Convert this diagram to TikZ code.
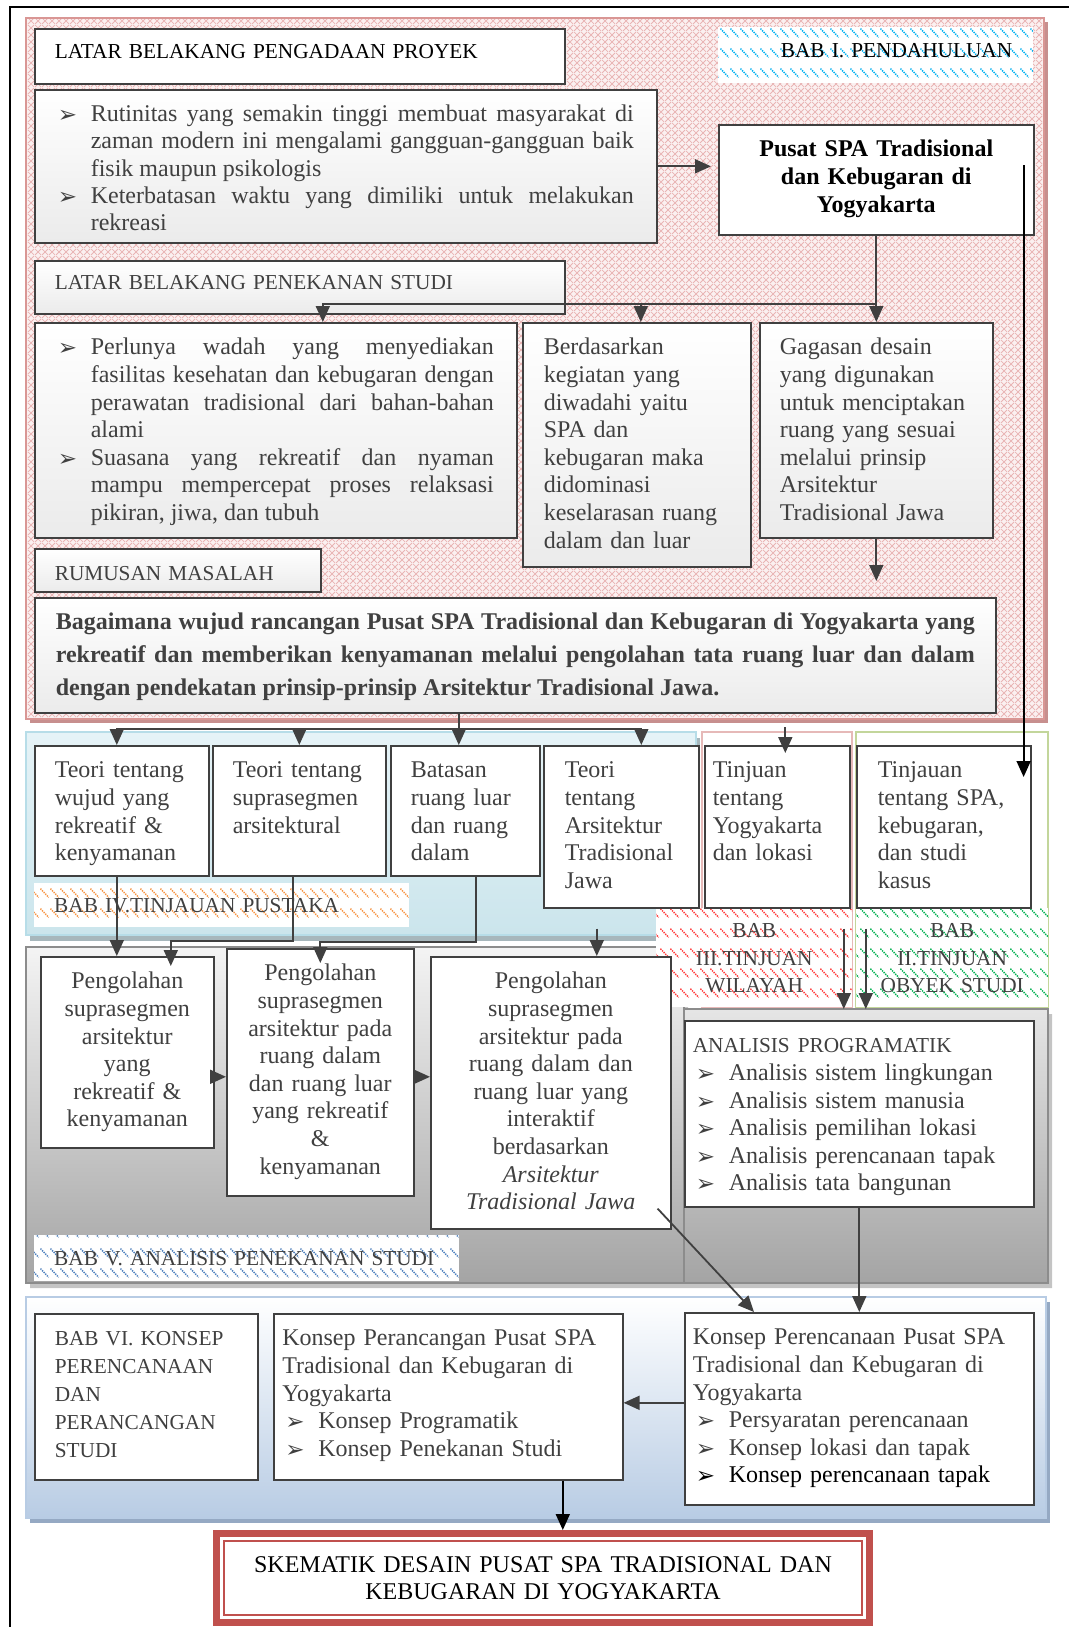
\documentclass[tikz,border=0pt]{standalone}
\usepackage{fontspec}
\setmainfont{Liberation Serif}
\newfontfamily\dejavu{DejaVu Sans}
\usetikzlibrary{arrows.meta,positioning,calc,patterns.meta}
\hyphenpenalty=10000
\exhyphenpenalty=10000
\tolerance=9999
\emergencystretch=20pt

\definecolor{txtC}{HTML}{404040}
\definecolor{lineC}{HTML}{404040}
\definecolor{boxC}{HTML}{EBEBEB}
\definecolor{pinkF}{HTML}{FBF0F0}
\definecolor{pinkL}{HTML}{E9B4B4}
\definecolor{pinkB}{HTML}{D99694}
\definecolor{pinkS}{HTML}{C78F8E}
\definecolor{blueIVa}{HTML}{E6F3F7}
\definecolor{blueIVb}{HTML}{CBE5EC}
\definecolor{blueIVB}{HTML}{B7DDE8}
\definecolor{blueIVS}{HTML}{A7B7BC}
\definecolor{redB}{HTML}{E6B9B8}
\definecolor{greenB}{HTML}{C3D69B}
\definecolor{grayA}{HTML}{F4F4F4}
\definecolor{grayB}{HTML}{A4A4A4}
\definecolor{grayBd}{HTML}{8C8C8C}
\definecolor{grayS}{HTML}{C4C4C4}
\definecolor{blueVIb}{HTML}{B8CCE4}
\definecolor{blueVIB}{HTML}{B8CCE4}
\definecolor{blueVIS}{HTML}{95A9C3}
\definecolor{hatchB}{HTML}{00B0F0}
\definecolor{hatchO}{HTML}{F79646}
\definecolor{hatchR}{HTML}{FF3B3B}
\definecolor{hatchGr}{HTML}{00B050}
\definecolor{hatchS}{HTML}{4F81BD}
\definecolor{redC}{HTML}{C0504D}

\newcommand{\lbl}{\fontsize{21.3}{27.6}\selectfont}
\newcommand{\bul}{\raisebox{-1pt}{\dejavu\fontsize{23}{23}\selectfont ➢}}
\newcommand{\itm}[2][33pt]{\noindent\hangindent=#1\hangafter=1\makebox[#1][l]{\hspace{\dimexpr#1-33pt\relax}\bul}#2\par}

\tikzdeclarepattern{
  name=dashhatch,
  type=uncolored,
  bottom left={(0pt,0pt)},
  top right={(10pt,20pt)},
  tile size={(10pt,20pt)},
  code={\draw[line width=1.6pt, dash pattern=on 1.4pt off 1.1pt] (0.5pt,19pt) -- (9.5pt,10pt);}
}
\tikzdeclarepattern{
  name=lattice,
  type=uncolored,
  bottom left={(0pt,0pt)},
  top right={(7pt,7pt)},
  tile size={(7pt,7pt)},
  code={\draw[line width=0.9pt] (0pt,0pt) -- (7pt,7pt) (0pt,7pt) -- (7pt,0pt);}
}

\tikzset{
  boxbase/.style={draw=lineC, line width=1.6pt, anchor=north west, inner ysep=14pt, text height=18pt, align=left},
  boxW/.style={boxbase, fill=white},
  boxG/.style={boxbase, top color=white, bottom color=boxC},
  lblbox/.style={font=\lbl, inner ysep=0pt, inner xsep=20pt, text height=15pt, text depth=10pt},
  hatchlbl/.style={fill=white, postaction={pattern=dashhatch, pattern color=#1}, anchor=north west,
    inner ysep=0pt, font=\lbl, text height=15pt, text depth=10pt, align=left},
  arr/.style={-{Triangle[length=16pt,width=14pt]}, draw=lineC, line width=1.8pt},
  arrK/.style={arr, draw=black}
}

\begin{document}
\begin{tikzpicture}[x=1pt,y=-1pt,font=\fontsize{24}{27.6}\selectfont,text=txtC]
\useasboundingbox (0,0) rectangle (1069,1627);
\draw[black, line width=1.5pt] (10,1627) -- (10,7) -- (1069,7);

% BAB I
\fill[pinkS] (30,22) rectangle (1048,723);
\fill[pinkF] (26,18) rectangle (1044,719);
\path[pattern=lattice, pattern color=pinkL] (26,18) rectangle (1044,719);
\draw[pinkB, line width=2pt] (26,18) rectangle (1044,719);

% BAB IV, III, II
\fill[blueIVS] (30,738) rectangle (700,941);
\shade[top color=blueIVa, bottom color=blueIVb] (26,732) rectangle (696,935);
\draw[blueIVB, line width=2pt] (26,732) rectangle (696,935);
\draw[redB, line width=2pt, fill=white] (702,732) rectangle (852,1007);
\draw[greenB, line width=2.5pt, fill=white] (856,732) rectangle (1048,1007);

% BAB V
\fill[grayS] (30,952) -- (688,952) -- (688,1014) -- (1052,1014) -- (1052,1288) -- (30,1288) -- cycle;
\shade[top color=grayA, bottom color=grayB] (26,947) -- (684,947) -- (684,1009) -- (1048,1009) -- (1048,1283) -- (26,1283) -- cycle;
\draw[grayBd, line width=2pt] (26,947) -- (684,947) -- (684,1009) -- (1048,1009) -- (1048,1283) -- (26,1283) -- cycle;
\draw[grayBd, line width=1.5pt] (684,1009) -- (684,1283);

% BAB VI
\fill[blueVIS] (30,1302) rectangle (1050,1523);
\shade[top color=white, bottom color=blueVIb] (26,1297) rectangle (1046,1518);
\draw[blueVIB, line width=2pt] (26,1297) rectangle (1046,1518);

% labels
\node[hatchlbl=hatchB, inner xsep=21pt, text width=273pt, align=right, minimum height=56pt, text=black] (bab1) at (718,27) {BAB I. PENDAHULUAN};
\node[hatchlbl=hatchO, inner xsep=20pt, text width=335pt, text height=16pt, text depth=2pt, minimum height=44pt] (bab4) at (34,883) {BAB IV.TINJAUAN PUSTAKA};
\node[hatchlbl=hatchR, inner xsep=4pt, text width=188pt, align=center, minimum height=99pt, text depth=55.2pt] (bab3) at (656,908) {BAB\\ III.TINJUAN\\ WILAYAH};
\node[hatchlbl=hatchGr, inner xsep=4pt, text width=184pt, align=center, minimum height=99pt, text depth=55.2pt] (bab2) at (856,908) {BAB\\ II.TINJUAN\\ OBYEK STUDI};
\node[hatchlbl=hatchS, inner xsep=20pt, text width=385pt, text height=16pt, text depth=2pt, minimum height=46pt] (bab5) at (34,1235) {BAB V. ANALISIS PENEKANAN STUDI};

% boxes of BAB I
\node[boxW, lblbox, text width=490pt, minimum height=55pt, text=black] (latarA) at (34,28) {LATAR BELAKANG PENGADAAN PROYEK};
\node[boxG, inner xsep=23pt, text width=576pt, text depth=107pt, align=justify, font=\fontsize{24}{27.1}\selectfont] (rutin) at (34,89)
  {\itm{Rutinitas yang semakin tinggi membuat masyarakat di zaman modern ini mengalami gangguan-gangguan baik fisik maupun psikologis}%
   \itm{Keterbatasan waktu yang dimiliki untuk melakukan rekreasi}};
\node[boxW, inner xsep=20pt, text width=275pt, text depth=64pt, align=center, font=\fontsize{24}{28}\selectfont\bfseries, text=black] (pusat) at (718,124)
  {Pusat SPA Tradisional\\ dan Kebugaran di\\ Yogyakarta};
\node[boxG, lblbox, text width=490pt, minimum height=53pt] (latarB) at (34,260) {LATAR BELAKANG PENEKANAN STUDI};
\node[boxG, inner xsep=23pt, text width=436pt, text depth=169pt, align=justify] (perlu) at (34,322)
  {\itm{Perlunya wadah yang menyediakan fasilitas kesehatan dan kebugaran dengan perawatan tradisional dari bahan-bahan alami}%
   \itm{Suasana yang rekreatif dan nyaman mampu mempercepat proses relaksasi pikiran, jiwa, dan tubuh}};
\node[boxG, inner xsep=21pt, text width=186pt, text depth=198pt] (dasar) at (522,322)
  {Berdasarkan\\ kegiatan yang\\ diwadahi yaitu\\ SPA dan\\ kebugaran maka\\ didominasi\\ keselarasan ruang\\ dalam dan luar};
\node[boxG, inner xsep=20pt, text width=193pt, text depth=169pt] (gagas) at (759,322)
  {Gagasan desain\\ yang digunakan\\ untuk menciptakan\\ ruang yang sesuai\\ melalui prinsip\\ Arsitektur\\ Tradisional Jawa};
\node[boxG, lblbox, text width=246pt, text height=21pt, text depth=0pt, minimum height=43pt] (rumus) at (34,548) {RUMUSAN MASALAH};
\node[boxG, inner xsep=21pt, text width=919pt, text depth=69pt, align=justify, font=\fontsize{24}{33}\selectfont\bfseries] (tanya) at (34,597)
  {Bagaimana wujud rancangan Pusat SPA Tradisional dan Kebugaran di Yogyakarta yang rekreatif dan memberikan kenyamanan melalui pengolahan tata ruang luar dan dalam dengan pendekatan prinsip-prinsip Arsitektur Tradisional Jawa.};

% boxes of BAB IV, III, II
\node[boxW, inner xsep=20pt, text width=134pt, text depth=84pt] (teoriA) at (34,745) {Teori tentang\\ wujud yang\\ rekreatif \&\\ kenyamanan};
\node[boxW, inner xsep=20pt, text width=133pt, text depth=84pt] (teoriB) at (212,745) {Teori tentang\\ suprasegmen\\ arsitektural};
\node[boxW, inner xsep=20pt, text width=109pt, text depth=84pt] (batas) at (390,745) {Batasan\\ ruang luar\\ dan ruang\\ dalam};
\node[boxW, inner xsep=21pt, text width=113pt, text depth=116pt] (teoriC) at (543,745) {Teori\\ tentang\\ Arsitektur\\ Tradisional\\ Jawa};
\node[boxW, inner xsep=8pt, text width=129pt, text depth=116pt] (tinjA) at (704,745) {Tinjuan\\ tentang\\ Yogyakarta\\ dan lokasi};
\node[boxW, inner xsep=21pt, text width=132pt, text depth=116pt] (tinjB) at (856,745) {Tinjauan\\ tentang SPA,\\ kebugaran,\\ dan studi\\ kasus};

% boxes of BAB V
\node[boxW, inner xsep=8pt, text width=157pt, text depth=145pt, align=center] (olahA) at (40,956)
  {Pengolahan\\ suprasegmen\\ arsitektur\\ yang\\ rekreatif \&\\ kenyamanan};
\node[boxW, inner xsep=8pt, text width=171pt, text depth=201pt, align=center] (olahB) at (226,948)
  {Pengolahan\\ suprasegmen\\ arsitektur pada\\ ruang dalam\\ dan ruang luar\\ yang rekreatif\\ \&\\ kenyamanan};
\node[boxW, inner xsep=8pt, text width=224pt, text depth=226pt, align=center] (olahC) at (430,956)
  {Pengolahan\\ suprasegmen\\ arsitektur pada\\ ruang dalam dan\\ ruang luar yang\\ interaktif\\ berdasarkan\\ \textit{Arsitektur}\\ \textit{Tradisional Jawa}};
\node[boxW, inner xsep=8pt, text width=333pt, text depth=140pt] (anal) at (684,1020)
  {{\lbl ANALISIS PROGRAMATIK}\par
   \itm[36pt]{Analisis sistem lingkungan}\itm[36pt]{Analisis sistem manusia}\itm[36pt]{Analisis pemilihan lokasi}%
   \itm[36pt]{Analisis perencanaan tapak}\itm[36pt]{Analisis tata bangunan}};

% boxes of BAB VI
\node[boxW, inner xsep=20pt, text width=183pt, text depth=120pt, font=\fontsize{21.3}{28}\selectfont] (bab6) at (34,1313)
  {BAB VI. KONSEP\\ PERENCANAAN\\ DAN\\ PERANCANGAN\\ STUDI};
\node[boxW, inner xsep=8.5pt, text width=332pt, text depth=120pt] (rancang) at (273,1313)
  {Konsep Perancangan Pusat SPA\\ Tradisional dan Kebugaran di\\ Yogyakarta\par
   \itm[36pt]{Konsep Programatik}\itm[36pt]{Konsep Penekanan Studi}};
\node[boxW, inner xsep=8pt, text width=333pt, text depth=146pt] (rencana) at (684,1312)
  {Konsep Perencanaan Pusat SPA\\ Tradisional dan Kebugaran di\\ Yogyakarta\par
   \itm[36pt]{Persyaratan perencanaan}\itm[36pt]{Konsep lokasi dan tapak}%
   {\color{black}\itm[36pt]{Konsep perencanaan tapak}}};

\node[draw=redC, line width=7pt, fill=white, minimum width=653pt, minimum height=89pt, inner sep=0pt, text width=600pt, align=center, text=black, font=\fontsize{24}{27.3}\selectfont] (skema) at (543,1578)
  {SKEMATIK DESAIN PUSAT SPA TRADISIONAL DAN\\ KEBUGARAN DI YOGYAKARTA};
\draw[redC, line width=2.2pt] ([shift={(11,11)}]skema.north west) rectangle ([shift={(-11,-11)}]skema.south east);

% connectors
\draw[arr, shorten >=7pt] (rutin.east) -- (rutin.east -| pusat.west);
\coordinate (jA) at ([yshift=18pt]gagas.north);
\coordinate (dN) at ([xshift=4pt]dasar.north);
\draw[arr] (pusat.south) -- (gagas.north);
\draw[arr] (jA) -| ([xshift=47pt]perlu.north);
\draw[arr] (jA -| dN) -- (dN);
\draw[arr, shorten >=16pt] (gagas.south) -- (gagas.south |- tanya.north);

\coordinate (jB) at ([xshift=-56.5pt,yshift=-15pt]tanya.south);
\draw[lineC, line width=1.8pt] ([xshift=-56.5pt]tanya.south) -- (jB);
\draw[arr] (jB) -| ([xshift=-5pt]teoriA.north);
\draw[arr] (jB) -| ([xshift=20pt]teoriC.north);
\draw[arr] (jB -| teoriB.north) -- (teoriB.north);
\draw[arr] (jB) -- (jB |- batas.north);
\draw[arr] ([xshift=8pt,yshift=18pt]tinjA.north) -- ([xshift=8pt,yshift=-8pt]tinjA.north);

\coordinate (pR) at ([xshift=-11pt,yshift=-41pt]pusat.north east);
\coordinate (pE) at (pR |- tinjB.north);
\draw[arrK] (pR) -- ([yshift=-32pt]pE);

\coordinate (aS) at ([xshift=-5pt]teoriA.south);
\draw[arr] (aS) -- (aS |- olahA.north);
\coordinate (bS) at ([xshift=-6.5pt]teoriB.south);
\coordinate (bT) at ([xshift=43.5pt,yshift=-10pt]olahA.north);
\draw[arr] (bS) |- ([yshift=25pt]bT) -- (bT);
\coordinate (cS) at ([xshift=10.5pt]batas.south);
\coordinate (cT) at ([yshift=-15pt]olahB.north);
\draw[arr] (cS) |- ([yshift=21pt]cT) -- (cT);
\coordinate (dS) at ([xshift=-24.5pt,yshift=-20pt]teoriC.south);
\draw[arr] (dS) -- (dS |- olahC.north);
\coordinate (gV) at ([yshift=11pt]anal.north);
\coordinate (eS) at ([xshift=66.5pt,yshift=-20pt]tinjA.south);
\draw[arr] (eS) -- (eS |- gV);
\coordinate (fS) at ([xshift=-78pt,yshift=-20pt]tinjB.south);
\draw[arr] (fS) -- (fS |- gV);

\coordinate (hA) at ([yshift=-24.5pt]olahA.east);
\draw[arr] (hA) -- (hA -| olahB.west);
\draw[arr] (hA -| olahB.east) -- (hA -| olahC.west);
\draw[arr] ([xshift=-14pt,yshift=21pt]olahC.south east) -- ([xshift=70pt]rencana.north west);
\draw[arr] (anal.south) -- (rencana.north);

\coordinate (kA) at ([yshift=6pt]rencana.west);
\draw[arr] (kA) -- (kA -| rancang.east);
\coordinate (kB) at ([xshift=114.5pt]rancang.south);
\draw[arrK] (kB) -- (kB |- skema.north);
\end{tikzpicture}
\end{document}
